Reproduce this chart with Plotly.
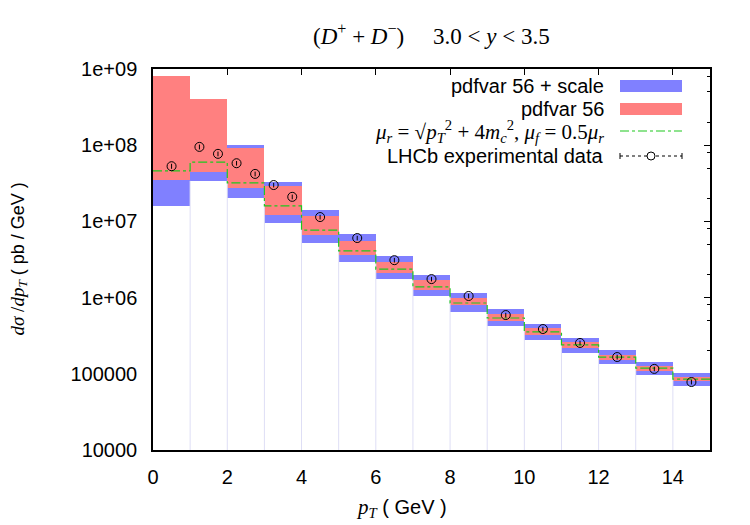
import plotly.graph_objects as go

# ---------------- data ----------------
bin_lo = [0, 1, 2, 3, 4, 5, 6, 7, 8, 9, 10, 11, 12, 13, 14]
bin_hi = [1, 2, 3, 4, 5, 6, 7, 8, 9, 10, 11, 12, 13, 14, 15]
band_lo = [1.6e7, 3.4e7, 2.03e7, 9.5e6, 5.2e6, 2.9e6, 1.75e6, 1.05e6, 6.5e5, 4.24e5,
           2.78e5, 1.88e5, 1.35e5, 9.6e4, 6.9e4]
band_hi = [8.2e8, 4.05e8, 1.0e8, 3.3e7, 1.41e7, 6.8e6, 3.5e6, 1.98e6, 1.15e6, 7.1e5,
           4.5e5, 2.95e5, 2.05e5, 1.43e5, 1.02e5]
pdf_lo = [3.5e7, 4.45e7, 2.74e7, 1.21e7, 6.6e6, 3.6e6, 2.1e6, 1.26e6, 8.0e5, 4.9e5,
          3.2e5, 2.18e5, 1.52e5, 1.09e5, 8.1e4]
pdf_hi = [8.2e8, 4.0e8, 9.2e7, 2.9e7, 1.18e7, 5.5e6, 2.9e6, 1.70e6, 9.9e5, 6.1e5,
          4.0e5, 2.6e5, 1.77e5, 1.27e5, 9.1e4]
central = [4.6e7, 6.0e7, 3.2e7, 1.6e7, 7.7e6, 4.1e6, 2.37e6, 1.38e6, 8.5e5, 5.4e5,
           3.54e5, 2.39e5, 1.66e5, 1.19e5, 8.5e4]
data_x = [0.5, 1.25, 1.75, 2.25, 2.75, 3.25, 3.75, 4.5, 5.5, 6.5, 7.5, 8.5, 9.5,
          10.5, 11.5, 12.5, 13.5, 14.5]
data_y = [5.3e7, 9.5e7, 7.7e7, 5.8e7, 4.2e7, 3.0e7, 2.1e7, 1.14e7, 6.05e6, 3.1e6,
          1.75e6, 1.05e6, 5.9e5, 3.87e5, 2.54e5, 1.66e5, 1.16e5, 7.8e4]
data_err = [4e6, 7e6, 5.5e6, 4e6, 3e6, 2.1e6, 1.5e6, 8e5, 4.2e5, 2.2e5, 1.2e5, 7.5e4,
            4.2e4, 2.7e4, 1.8e4, 1.2e4, 8e3, 5.5e3]
y_floor = 1e4
y_ticks = [1e4, 1e5, 1e6, 1e7, 1e8, 1e9]
y_ticktext = ["10000", "100000", "1e+06", "1e+07", "1e+08", "1e+09"]
x_ticks = [0, 2, 4, 6, 8, 10, 12, 14]

BLUE = "rgb(128,128,255)"
RED = "rgb(255,128,128)"
GREEN = "rgb(30,200,30)"
LAV = "rgb(222,222,245)"
SANS = "Liberation Sans"
SERIF = "Liberation Serif"

centers = [(a + b) / 2 for a, b in zip(bin_lo, bin_hi)]
widths = [b - a for a, b in zip(bin_lo, bin_hi)]

fig = go.Figure()

# white boxes from floor to band bottom (hide ticks like gnuplot boxes)
fig.add_trace(go.Bar(x=centers, width=widths, base=[y_floor] * len(centers),
                     y=[v - y_floor for v in band_lo],
                     marker=dict(color="white", line=dict(width=0)),
                     showlegend=False, hoverinfo="skip"))

# faint box edges
ex, ey = [], []
for k in range(1, len(bin_lo)):
    top = max(band_lo[k - 1], band_lo[k])
    ex += [bin_lo[k], bin_lo[k], None]
    ey += [y_floor, top, None]
fig.add_trace(go.Scatter(x=ex, y=ey, mode="lines", line=dict(color=LAV, width=1),
                         showlegend=False, hoverinfo="skip"))

# pdf + scale band
fig.add_trace(go.Bar(x=centers, width=widths, base=band_lo,
                     y=[h - l for h, l in zip(band_hi, band_lo)],
                     marker=dict(color=BLUE, line=dict(width=0)),
                     showlegend=False))
# pdf band
fig.add_trace(go.Bar(x=centers, width=widths, base=pdf_lo,
                     y=[h - l for h, l in zip(pdf_hi, pdf_lo)],
                     marker=dict(color=RED, line=dict(width=0)),
                     showlegend=False))
# central step line
fig.add_trace(go.Scatter(x=bin_lo + [bin_hi[-1]], y=central + [central[-1]],
                         mode="lines", line=dict(color=GREEN, width=1.2, dash="dashdot", shape="hv"),
                         showlegend=False))
# data
fig.add_trace(go.Scatter(x=data_x, y=data_y, mode="markers",
                         marker=dict(symbol="circle-open", size=9, color="black",
                                     line=dict(width=1, color="black")),
                         error_y=dict(type="data", array=data_err, color="black",
                                      thickness=1, width=0),
                         showlegend=False))

minor_vals = []
for e in range(4, 9):
    for m in (2, 5, 8):
        minor_vals.append(m * 10 ** e)

fig.update_layout(
    width=750, height=525,
    margin=dict(l=153, r=40, t=69, b=75),
    paper_bgcolor="white", plot_bgcolor="white",
    barmode="overlay", bargap=0,
    showlegend=False,
    font=dict(family=SANS, size=16, color="black"),
    xaxis=dict(range=[0, 15], tickvals=x_ticks, ticks="inside", ticklen=6,
               tickcolor="black", tickwidth=1, showline=True, linecolor="black",
               linewidth=1.5, mirror="ticks", showgrid=False, zeroline=False,
               layer="below traces", tickfont=dict(family=SANS, size=20),
               ticklabelstandoff=8),
    yaxis=dict(type="log", range=[4, 9], tickvals=y_ticks, ticktext=y_ticktext,
               ticks="inside", ticklen=6, tickcolor="black", tickwidth=1,
               showline=True, linecolor="black", linewidth=1.5, mirror="ticks",
               showgrid=False, zeroline=False, layer="below traces",
               tickfont=dict(family=SANS, size=20), ticklabelstandoff=10,
               minor=dict(tickvals=minor_vals, ticks="inside", ticklen=3,
                          tickcolor="black", showgrid=False)),
)

def px_x(p):
    return (p - 153) / 557.0

def px_y(p):
    return (450 - p) / 381.0

ann = []
ann.append(dict(x=px_x(431), y=px_y(34), xref="paper", yref="paper", showarrow=False,
                xanchor="center", yanchor="middle",
                font=dict(family=SERIF, size=23),
                text="(<i>D</i><sup>+</sup> + <i>D</i><sup>−</sup>)&nbsp;&nbsp;&nbsp;&nbsp;&nbsp;3.0 &lt; <i>y</i> &lt; 3.5"))
ann.append(dict(x=px_x(401), y=px_y(508), xref="paper", yref="paper", showarrow=False,
                xanchor="center", yanchor="middle", font=dict(family=SANS, size=20),
                text="<span style='font-family:Liberation Serif;font-size:21px'><i>p</i><sub><i>T</i></sub></span> ( GeV )"))
ann.append(dict(x=px_x(18), y=0.5, xref="paper", yref="paper", showarrow=False,
                xanchor="center", yanchor="middle", textangle=-90,
                font=dict(family=SANS, size=18),
                text="<span style='font-family:Liberation Serif;font-size:19px'><i>dσ</i> /<i>dp</i><sub><i>T</i></sub></span> ( pb / GeV )"))

rows = [86, 109, 131, 156]
labels = ["pdfvar 56 + scale", "pdfvar 56",
          "<span style='font-family:Liberation Serif;font-size:21px'><i>μ</i><sub><i>r</i></sub>&nbsp;=&nbsp;√<i>p</i><sub><i>T</i></sub><sup>2</sup>&nbsp;+&nbsp;4<i>m</i><sub><i>c</i></sub><sup>2</sup>,&nbsp;<i>μ</i><sub><i>f</i></sub>&nbsp;=&nbsp;0.5<i>μ</i><sub><i>r</i></sub></span>",
          "LHCb experimental data"]
for r, t in zip(rows, labels):
    ann.append(dict(x=px_x(606), y=px_y(r), xref="paper", yref="paper", showarrow=False,
                    xanchor="right", yanchor="middle", font=dict(family=SANS, size=20),
                    text=t))
fig.update_layout(annotations=ann)

shapes = []
x0s, x1s = px_x(620), px_x(682)
for r, c in zip(rows[:2], [BLUE, RED]):
    shapes.append(dict(type="rect", xref="paper", yref="paper", x0=x0s, x1=x1s,
                       y0=px_y(r + 6), y1=px_y(r - 6), fillcolor=c, line=dict(width=0)))
shapes.append(dict(type="line", xref="paper", yref="paper", x0=x0s, x1=x1s,
                   y0=px_y(rows[2]), y1=px_y(rows[2]), line=dict(color=GREEN, width=1.2, dash="dashdot")))
shapes.append(dict(type="line", xref="paper", yref="paper", x0=x0s, x1=x1s,
                   y0=px_y(rows[3]), y1=px_y(rows[3]), line=dict(color="black", width=1, dash="dot")))
for xe in (620, 682):
    shapes.append(dict(type="line", xref="paper", yref="paper", x0=px_x(xe), x1=px_x(xe),
                       y0=px_y(rows[3] - 3), y1=px_y(rows[3] + 3), line=dict(color="black", width=1)))
shapes.append(dict(type="circle", xref="paper", yref="paper", x0=px_x(647), x1=px_x(655),
                   y0=px_y(rows[3] + 4), y1=px_y(rows[3] - 4), fillcolor="white",
                   line=dict(color="black", width=1)))
fig.update_layout(shapes=shapes)

fig.write_html("out.html")
